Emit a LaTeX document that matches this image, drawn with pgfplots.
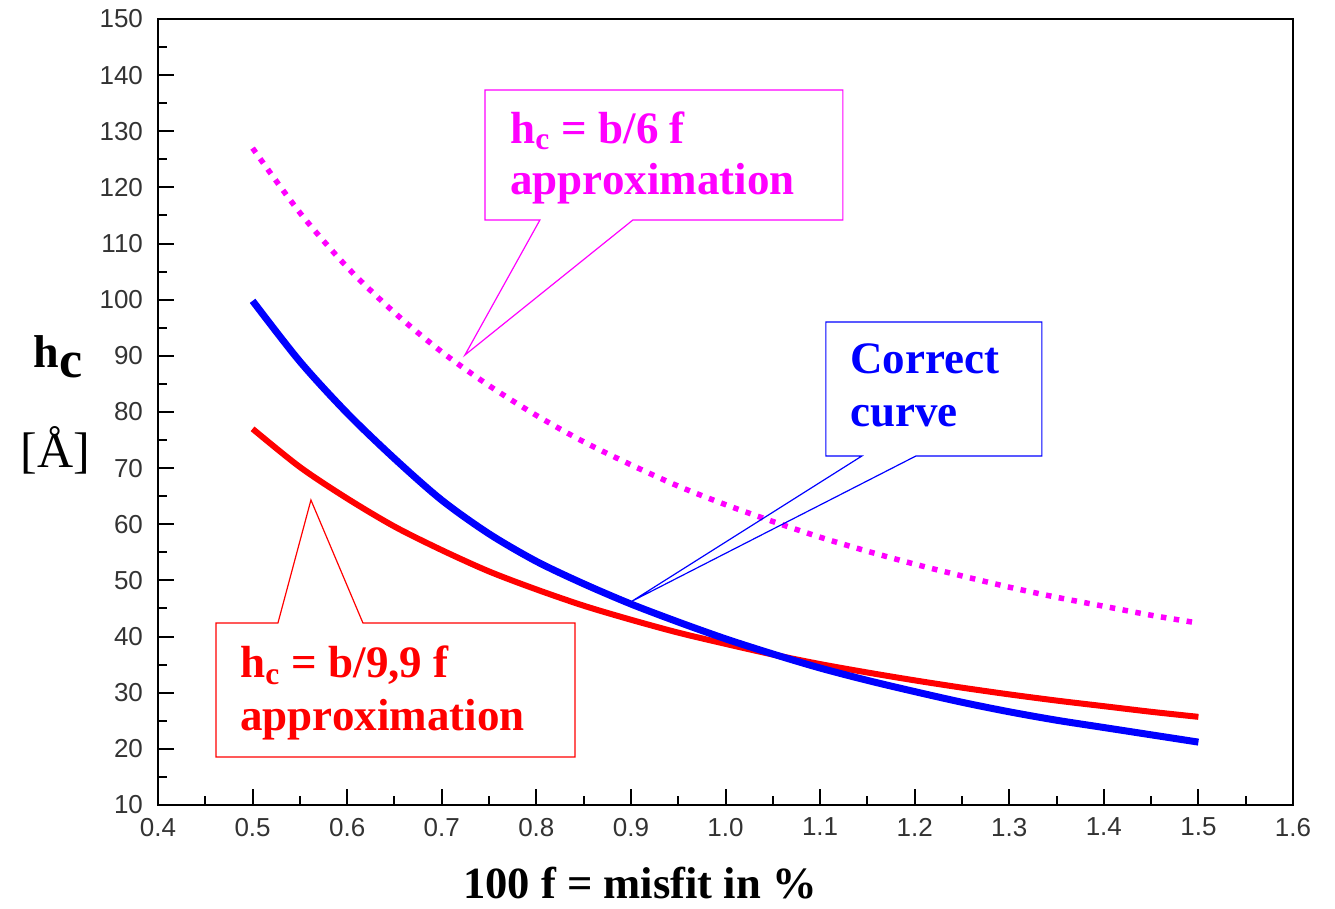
\documentclass[border=0pt]{standalone}
\usepackage{fontspec}
\setmainfont{Liberation Serif}
\newfontfamily\ticksans{Liberation Sans}
\usepackage{pgfplots}
\pgfplotsset{compat=1.18}
\definecolor{mag}{RGB}{255,0,255}
\definecolor{rd}{RGB}{255,0,0}
\definecolor{bl}{RGB}{0,0,255}
\begin{document}
\begin{tikzpicture}
\begin{axis}[
  at={(0pt,0pt)}, anchor=south west,
  scale only axis, width=567.5pt, height=393pt,
  xmin=0.4, xmax=1.6, ymin=10, ymax=150,
  xtick={0.4,0.5,0.6,0.7,0.8,0.9,1.0,1.1,1.2,1.3,1.4,1.5,1.6},
  ytick={10,20,30,40,50,60,70,80,90,100,110,120,130,140,150},
  minor x tick num=1, minor y tick num=1,
  tick pos=left, tick align=inside,
  major tick length=8pt, minor tick length=4.5pt,
  tick style={black, line width=1pt},
  axis line style={black, line width=1pt},
  /pgf/number format/assume math mode=true,
  x tick label style={/pgf/number format/.cd, fixed, fixed zerofill, precision=1, /tikz/.cd},
  xticklabel style={font=\fontsize{13}{15}\selectfont\ticksans, text=black!80, yshift=-3pt},
  yticklabel style={font=\fontsize{13}{15}\selectfont\ticksans, text=black!80, xshift=-4pt},
  clip=false,
]
% h_c = b/6 f approximation (dotted)
\addplot[mag, line width=2.75pt, dash pattern=on 2.75pt off 3.75pt, smooth] coordinates {
 (0.50,127.0) (0.55,115.5) (0.60,105.8) (0.65,97.7) (0.70,90.7) (0.75,84.7)
 (0.80,79.4) (0.85,74.7) (0.90,70.6) (0.95,66.8) (1.00,63.5) (1.05,60.5)
 (1.10,57.7) (1.15,55.2) (1.20,52.9) (1.25,50.8) (1.30,48.8) (1.35,47.0)
 (1.40,45.4) (1.45,43.8) (1.50,42.4)};
% h_c = b/9,9 f approximation
\addplot[rd, line width=3pt, smooth] coordinates {
 (0.50,77.0) (0.55,70.2) (0.60,64.6) (0.65,59.6) (0.70,55.4) (0.75,51.6)
 (0.80,48.4) (0.85,45.5) (0.90,43.0) (0.95,40.7) (1.00,38.7) (1.05,36.8)
 (1.10,35.1) (1.15,33.6) (1.20,32.2) (1.25,30.9) (1.30,29.7) (1.35,28.6)
 (1.40,27.6) (1.45,26.6) (1.50,25.7)};
% correct curve
\addplot[bl, line width=3.5pt, smooth] coordinates {
 (0.50,99.8) (0.55,89.0) (0.60,79.8) (0.65,71.7) (0.70,64.3) (0.75,58.3)
 (0.80,53.4) (0.85,49.4) (0.90,45.8) (0.95,42.6) (1.00,39.6) (1.05,36.9)
 (1.10,34.4) (1.15,32.2) (1.20,30.2) (1.25,28.3) (1.30,26.6) (1.35,25.1)
 (1.40,23.8) (1.45,22.5) (1.50,21.2)};

% callout boxes
\draw[mag, line width=0.6pt] (0.7457,137.35) -- (1.1241,137.35) -- (1.1241,114.20) -- (0.9021,114.20) -- (0.7245,90.15) -- (0.8038,114.20) -- (0.7457,114.20) -- cycle;
\draw[bl, line width=0.6pt] (1.1061,96.03) -- (1.3345,96.03) -- (1.3345,72.16) -- (1.2013,72.16) -- (0.9011,46.3) -- (1.1442,72.16) -- (1.1061,72.16) -- cycle;
\draw[rd, line width=0.6pt] (0.4613,42.41) -- (0.5268,42.41) -- (0.5617,64.32) -- (0.6167,42.41) -- (0.8408,42.41) -- (0.8408,18.55) -- (0.4613,18.55) -- cycle;

\node[anchor=base west, inner sep=0, text=mag, font=\fontsize{22.5}{26}\selectfont\bfseries] at (0.7721,127.91) {h\textsubscript{c} = b/6 f};
\node[anchor=base west, inner sep=0, text=mag, font=\fontsize{22.5}{26}\selectfont\bfseries] at (0.7721,118.65) {approximation};
\node[anchor=base west, inner sep=0, text=bl, font=\fontsize{22.5}{26}\selectfont\bfseries] at (1.1315,86.94) {Correct};
\node[anchor=base west, inner sep=0, text=bl, font=\fontsize{22.5}{26}\selectfont\bfseries] at (1.1315,77.33) {curve};
\node[anchor=base west, inner sep=0, text=rd, font=\fontsize{22.5}{26}\selectfont\bfseries] at (0.4867,32.62) {h\textsubscript{c} = b/9,9 f};
\node[anchor=base west, inner sep=0, text=rd, font=\fontsize{22.5}{26}\selectfont\bfseries] at (0.4867,23.35) {approximation};

% axis labels
\node[anchor=base west, inner sep=0] at (0.2679,88.0) {\fontsize{23}{26}\selectfont\bfseries h\raisebox{-5pt}{\fontsize{26}{28}\selectfont c}};
\node[anchor=base west, inner sep=0] at (0.2541,70.2) {\fontsize{25}{28}\selectfont [Å]};
\node[anchor=base, inner sep=0] at (0.9095,-6.6) {\fontsize{22.3}{26}\selectfont\bfseries 100 f = misfit in \%};
\end{axis}
\pgfresetboundingbox
\useasboundingbox (-79pt,-52pt) rectangle (588.5pt,402.5pt);
\end{tikzpicture}
\end{document}
